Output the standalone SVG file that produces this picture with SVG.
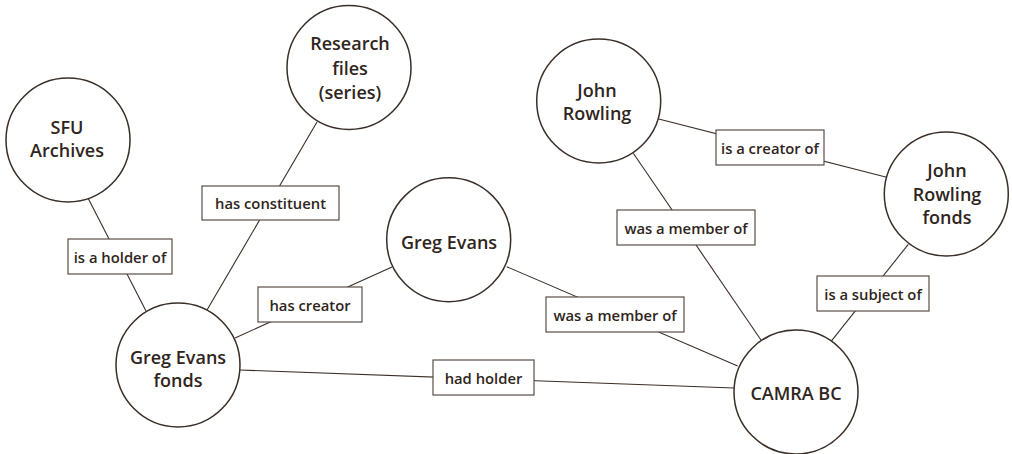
<svg xmlns="http://www.w3.org/2000/svg" width="1012" height="454" viewBox="0 0 1012 454">
<style>
.node circle{fill:#fff;stroke:#3a2e28;stroke-width:1.5}
.node text{font-family:"Open Sans","Liberation Sans",sans-serif;font-weight:600;font-size:18px;fill:#2f2520;text-anchor:middle;dominant-baseline:central}
.edges line{stroke:#3a2e28;stroke-width:1.1}
.lbl rect{fill:#fff;stroke:#5a4e47;stroke-width:1.2}
.lbl text{font-family:"Open Sans","Liberation Sans",sans-serif;font-weight:600;font-size:14.8px;fill:#2f2520;text-anchor:middle;dominant-baseline:central}
</style>
<rect width="1012" height="454" fill="#fff"/>
<g class="edges" id="connectors">
<line x1="88" y1="198" x2="146" y2="311"/>
<line x1="317" y1="122" x2="207" y2="310"/>
<line x1="392" y1="267" x2="235" y2="338"/>
<line x1="240" y1="370" x2="734" y2="388"/>
<line x1="506.7" y1="266.7" x2="737.7" y2="366"/>
<line x1="633.3" y1="153.3" x2="761" y2="340"/>
<line x1="658.7" y1="119" x2="886.7" y2="177.3"/>
<line x1="908.3" y1="244.3" x2="831.7" y2="340.7"/>
<g class="lbl" id="lbl-holder"><rect x="68" y="239" width="104" height="35"/><text x="120" y="256.5">is a holder of</text></g>
<g class="lbl" id="lbl-constituent"><rect x="202" y="186" width="137" height="34"/><text x="270.5" y="203">has constituent</text></g>
<g class="lbl" id="lbl-creator"><rect x="258" y="287" width="104" height="35"/><text x="310" y="304.5">has creator</text></g>
<g class="lbl" id="lbl-hadholder"><rect x="433" y="360" width="101" height="35"/><text x="483.5" y="377.5">had holder</text></g>
<g class="lbl" id="lbl-member1"><rect x="546" y="297" width="138" height="35"/><text x="615" y="314.5">was a member of</text></g>
<g class="lbl" id="lbl-member2"><rect x="617" y="210" width="138" height="35"/><text x="686" y="227.5">was a member of</text></g>
<g class="lbl" id="lbl-iscreator"><rect x="716" y="130" width="108" height="35"/><text x="770" y="147.5">is a creator of</text></g>
<g class="lbl" id="lbl-subject"><rect x="817" y="276" width="112" height="35"/><text x="873" y="293.5">is a subject of</text></g>
</g>
<g class="node" id="n-sfu"><circle cx="68" cy="140" r="62"/><text x="67" y="127">SFU</text><text x="67" y="150">Archives</text></g>
<g class="node" id="n-research"><circle cx="349" cy="67.5" r="62"/><text x="350" y="43">Research</text><text x="350" y="68">files</text><text x="350" y="92">(series)</text></g>
<g class="node" id="n-greg"><circle cx="448.7" cy="239.7" r="62"/><text x="449" y="242">Greg Evans</text></g>
<g class="node" id="n-john"><circle cx="598.7" cy="101" r="62"/><text x="597" y="90">John</text><text x="597" y="113">Rowling</text></g>
<g class="node" id="n-jrfonds"><circle cx="946.3" cy="194" r="62"/><text x="947" y="170">John</text><text x="947" y="194">Rowling</text><text x="947" y="217">fonds</text></g>
<g class="node" id="n-gefonds"><circle cx="178" cy="365" r="62"/><text x="178" y="357">Greg Evans</text><text x="178" y="380">fonds</text></g>
<g class="node" id="n-camra"><circle cx="796" cy="392" r="62"/><text x="796" y="393">CAMRA BC</text></g>
</svg>
